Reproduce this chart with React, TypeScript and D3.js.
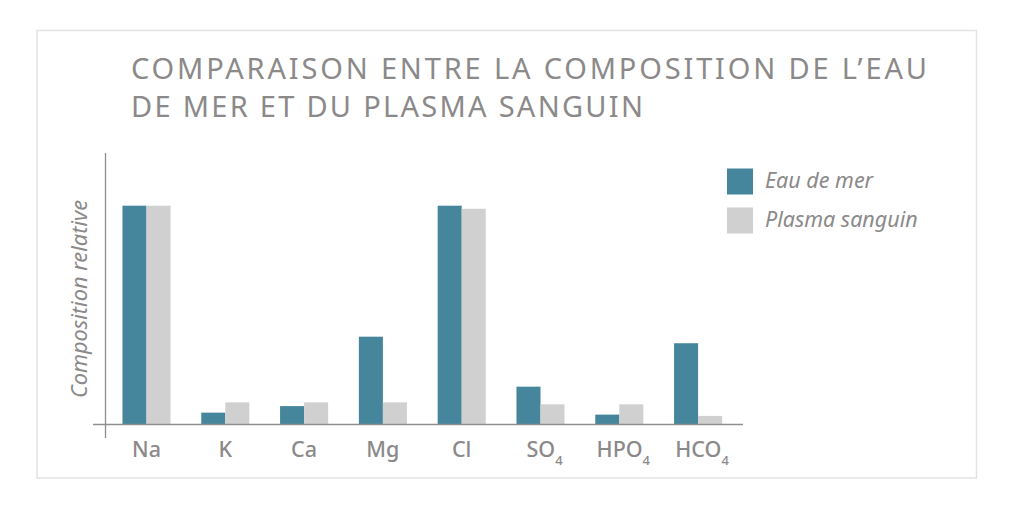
import React from "react";
import * as d3 from "d3";

const categories = ["Na", "K", "Ca", "Mg", "Cl", "SO4", "HPO4", "HCO4"];
const seriesNames = ["Eau de mer", "Plasma sanguin"];
const eauDeMer = [100, 5.2, 8.2, 40, 100, 17.1, 4.3, 37];
const plasmaSanguin = [100, 9.9, 9.9, 9.9, 98.6, 9.0, 9.0, 3.7];
const colors = ["#45869c", "#d0d0d0"];
const titleLines = [
  "COMPARAISON ENTRE LA COMPOSITION DE L\u2019EAU",
  "DE MER ET DU PLASMA SANGUIN",
];
const yLabel = "Composition relative";

const W = 1024;
const H = 506;
const FONT = "'Noto Sans', 'Open Sans', sans-serif";
const TEXT = "#8b8989";

export default function App() {
  const baseY = 424;
  const x = d3
    .scaleBand<string>()
    .domain(categories)
    .range([107.1, 737.5])
    .paddingInner(0.39)
    .paddingOuter(0.195);
  const sub = d3
    .scaleBand<string>()
    .domain(seriesNames)
    .range([0, x.bandwidth()]);
  const y = d3.scaleLinear().domain([0, 100]).range([baseY, 205.7]);
  const series = [eauDeMer, plasmaSanguin];

  const renderLabel = (c: string) => {
    const m = c.match(/^([A-Za-z]+?)(\d+)$/);
    if (!m) return c;
    return (
      <>
        {m[1]}
        <tspan fontSize={13} dy={8}>{m[2]}</tspan>
      </>
    );
  };

  return (
    <svg
      width={W}
      height={H}
      style={{ position: "absolute", left: 0, top: 0, background: "#fff" }}
    >
      <rect x={0} y={0} width={W} height={H} fill="#fff" />
      <rect
        x={37}
        y={30.5}
        width={939.5}
        height={447.5}
        fill="#fff"
        stroke="#e3e3e3"
        strokeWidth={1.5}
      />
      {titleLines.map((t, i) => (
        <text
          key={i}
          x={131}
          y={78.5 + i * 38}
          fontFamily={FONT}
          fontSize={29}
          fill={TEXT}
          textLength={i === 0 ? 796 : 512}
          lengthAdjust="spacing"
        >
          {t}
        </text>
      ))}
      {/* bars */}
      {categories.map((c, i) => (
        <g key={c}>
          {series.map((s, j) => (
            <rect
              key={j}
              x={(x(c) as number) + (sub(seriesNames[j]) as number)}
              y={y(s[i])}
              width={sub.bandwidth()}
              height={baseY - y(s[i])}
              fill={colors[j]}
            />
          ))}
        </g>
      ))}
      {/* axes */}
      <line x1={105.5} x2={105.5} y1={153} y2={438} stroke="#8e8e8e" strokeWidth={1.3} />
      <line x1={93} x2={743} y1={424.5} y2={424.5} stroke="#8e8e8e" strokeWidth={1.3} />
      {categories.map((c) => (
        <text
          key={c}
          x={(x(c) as number) + x.bandwidth() / 2 + (/\d/.test(c) ? 4 : 0)}
          y={457}
          textAnchor="middle"
          fontFamily={FONT}
          fontSize={21.5}
          fontWeight={500}
          fill={TEXT}
        >
          {renderLabel(c)}
        </text>
      ))}
      <text
        transform={`translate(87, 299) rotate(-90)`}
        textAnchor="middle"
        fontFamily={FONT}
        fontSize={22}
        fontStyle="italic"
        fill={TEXT}
        textLength={198}
        lengthAdjust="spacingAndGlyphs"
      >
        {yLabel}
      </text>
      {/* legend */}
      {seriesNames.map((n, j) => (
        <g key={n}>
          <rect x={727} y={168.5 + j * 39} width={26} height={26} fill={colors[j]} />
          <text
            x={765}
            y={188 + j * 39}
            fontFamily={FONT}
            fontSize={21.5}
            fontStyle="italic"
            fill={TEXT}
          >
            {n}
          </text>
        </g>
      ))}
    </svg>
  );
}
